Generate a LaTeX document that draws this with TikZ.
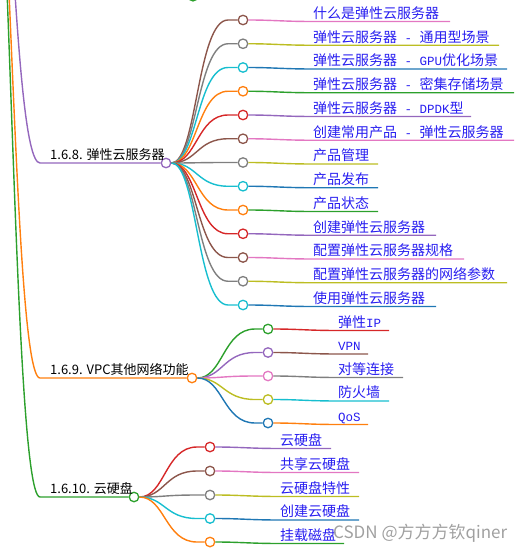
\documentclass[tikz,border=0pt]{standalone}
\usepackage{fontspec}
\usetikzlibrary{calc}
\newfontfamily\cjk{Noto Sans CJK SC}
\newfontfamily\lmono{Liberation Mono}
\newcommand\lt[1]{{\lmono\fontsize{12.5}{14}\selectfont #1}}
\definecolor{cblue}{HTML}{1F77B4}
\definecolor{corange}{HTML}{FF7F0E}
\definecolor{cgreen}{HTML}{2CA02C}
\definecolor{cred}{HTML}{D62728}
\definecolor{cpurple}{HTML}{9467BD}
\definecolor{cbrown}{HTML}{8C564B}
\definecolor{cpink}{HTML}{E377C2}
\definecolor{cgray}{HTML}{7F7F7F}
\definecolor{colive}{HTML}{BCBD22}
\definecolor{ccyan}{HTML}{17BECF}
\definecolor{linkblue}{RGB}{40,30,240}
\definecolor{wmark}{RGB}{160,160,160}
\tikzset{
  dot/.style={circle,fill=white,line width=1.3pt,minimum size=9.5pt,inner sep=0pt},
  link/.style={line width=1.4pt},
  leaflabel/.style={anchor=base west,inner sep=0pt,text=linkblue,font=\cjk\fontsize{14}{16}\selectfont},
  rootlabel/.style={anchor=base west,inner sep=0pt,text=black,font=\cjk\fontsize{13}{15}\selectfont},
}
\newcommand\leaf[6]{%
  \coordinate (#1a) at (\gax,#2);
  \node[dot,draw=#3] (#1) at (\gcx,#2) {};
  \coordinate (#1t) at (\gtx,#2+1.5);
  \coordinate (#1e) at (#5,#2+1.5);
  \draw[link,#3] (\groot) .. controls (\gmx,\gry) and (\gmx,#2) .. (#1a) -- (#1);
  \draw[link,#4] (#1) .. controls (\gcx+30,#2) and (\gcx+40,#2+1.5) .. (#1t) -- (#1e);
  \node[leaflabel] (#1l) at ($(#1t)+(0,-3.2)$) {#6};
}
\begin{document}
\begin{tikzpicture}[x=1pt,y=-1pt]
\useasboundingbox (0,0) rectangle (527,551);
% parent (off picture) and long links
\coordinate (top) at (-18,-300);
\coordinate (j1) at (40,163);
\coordinate (j2) at (40,378);
\coordinate (j3) at (40,497);
\node[dot,draw=cgreen] (prev) at (193,-3.8) {};
\node[dot,draw=cpurple] (r1) at (166,163) {};
\node[dot,draw=corange] (r2) at (192,378) {};
\node[dot,draw=cgreen] (r3) at (134,497) {};
\draw[link,cgreen] (top) .. controls (11,-300) and (11,497) .. (j3) -- (r3);
\draw[link,corange] (top) .. controls (11,-300) and (11,378) .. (j2) -- (r2);
\draw[link,cpurple] (top) .. controls (11,-300) and (11,163) .. (j1) -- (r1);
\node[rootlabel] (r1l) at (50,159.5) {1.6.8. 弹性云服务器};
\node[rootlabel] (r2l) at (50,374.5) {1.6.9. VPC其他网络功能};
\node[rootlabel] (r3l) at (50,493.5) {1.6.10. 云硬盘};
% group 1
\def\groot{r1}\def\gry{163}\def\gax{228}\def\gcx{243}\def\gtx{313}\def\gmx{197}
\leaf{a1}{20}{cbrown}{cpink}{450}{什么是弹性云服务器}
\leaf{a2}{43.75}{cgray}{colive}{499}{弹性云服务器\lt{ - }通用型场景}
\leaf{a3}{67.5}{ccyan}{cblue}{507}{弹性云服务器\lt{ - GPU}优化场景}
\leaf{a4}{91.25}{corange}{cgreen}{514}{弹性云服务器\lt{ - }密集存储场景}
\leaf{a5}{115}{cred}{cpurple}{471}{弹性云服务器\lt{ - DPDK}型}
\leaf{a6}{138.75}{cbrown}{cpink}{514}{创建常用产品\lt{ - }弹性云服务器}
\leaf{a7}{162.5}{cgray}{colive}{378}{产品管理}
\leaf{a8}{186.25}{ccyan}{cblue}{378}{产品发布}
\leaf{a9}{210}{corange}{cgreen}{378}{产品状态}
\leaf{a10}{233.75}{cred}{cpurple}{436}{创建弹性云服务器}
\leaf{a11}{257.5}{cbrown}{cpink}{464}{配置弹性云服务器规格}
\leaf{a12}{281.25}{cgray}{colive}{507}{配置弹性云服务器的网络参数}
\leaf{a13}{305}{ccyan}{cblue}{436}{使用弹性云服务器}
% group 2
\def\groot{r2}\def\gry{378}\def\gax{255}\def\gcx{268}\def\gtx{338}\def\gmx{223}
\leaf{b1}{329}{cgreen}{cred}{389}{弹性\lt{IP}}
\leaf{b2}{352.5}{cpurple}{cbrown}{368}{\lt{VPN}}
\leaf{b3}{376}{cpink}{cgray}{403}{对等连接}
\leaf{b4}{399.5}{colive}{ccyan}{389}{防火墙}
\leaf{b5}{423}{cblue}{corange}{368}{\lt{QoS}}
% group 3
\def\groot{r3}\def\gry{497}\def\gax{197}\def\gcx{210}\def\gtx{280}\def\gmx{165}
\leaf{c1}{447}{cred}{cpurple}{331}{云硬盘}
\leaf{c2}{471}{cbrown}{cpink}{359}{共享云硬盘}
\leaf{c3}{495}{cgray}{colive}{359}{云硬盘特性}
\leaf{c4}{518.5}{ccyan}{cblue}{359}{创建云硬盘}
\leaf{c5}{542}{corange}{cgreen}{344}{挂载磁盘}
% watermark
\node[anchor=west,inner sep=0pt,text=wmark,font=\cjk\fontsize{17}{19}\selectfont] (wm) at (333,533) {CSDN @方方方钦qiner};
\end{tikzpicture}
\end{document}
